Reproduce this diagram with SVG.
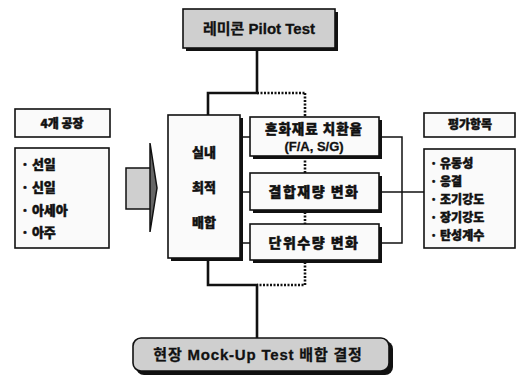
<svg xmlns="http://www.w3.org/2000/svg" width="518" height="378" viewBox="0 0 518 378">
<style>
.t{font-family:"Noto Sans CJK KR","Noto Sans",sans-serif;font-weight:900;fill:#111;stroke:#111;stroke-width:0.45;}
.l{font-family:"Liberation Sans","Noto Sans CJK KR",sans-serif;font-weight:bold;fill:#111;stroke:#111;stroke-width:0.3;}
.box{fill:#fafafa;stroke:#111;stroke-width:1.6;}
.gray{fill:#cfcfcf;stroke:#111;stroke-width:1.6;}
.sh{fill:#111;}
.solid{stroke:#111;stroke-width:2.6;fill:none;}
.dot{stroke:#111;stroke-width:2.6;fill:none;stroke-dasharray:2 1.5;}
.thin{stroke:#111;stroke-width:1.5;fill:none;}
</style>
<rect width="518" height="378" fill="#fff"/>
<g id="connectors">
<polyline class="solid" points="257,48 257,93 208,93 208,116"/>
<line class="dot" x1="257" y1="93" x2="305" y2="93"/>
<line class="dot" x1="305" y1="93" x2="305" y2="118"/>
<line class="dot" x1="305" y1="157" x2="305" y2="173"/>
<line class="dot" x1="305" y1="212" x2="305" y2="224"/>
<polyline class="dot" points="305,262 305,285 257,285"/>
<polyline class="solid" points="208,260 208,285 257,285 257,338"/>
<line class="thin" x1="241" y1="137" x2="251" y2="137"/>
<line class="thin" x1="241" y1="192" x2="251" y2="192"/>
<line class="thin" x1="241" y1="243" x2="251" y2="243"/>
<polyline class="thin" points="380,137 402,137 402,243 380,243"/>
<line class="thin" x1="380" y1="192" x2="424" y2="192"/>
</g>
<g id="pilot">
<rect class="sh" x="186" y="12" width="152" height="39"/>
<rect class="gray" x="183" y="9" width="152" height="39"/>
<text class="l" x="259" y="34" font-size="15" text-anchor="middle">레미콘 Pilot Test</text>
</g>
<g id="factories-title">
<rect class="box" x="15" y="109" width="95" height="28"/>
<text class="t" x="62" y="128" font-size="12" text-anchor="middle">4개 공장</text>
</g>
<g id="factories">
<rect class="box" x="15" y="148" width="94" height="100"/>
<g class="t" font-size="13">
<text x="21" y="169">· 선일</text>
<text x="21" y="192">· 신일</text>
<text x="21" y="215">· 아세아</text>
<text x="21" y="237">· 아주</text>
</g>
</g>
<g id="arrow">
<rect x="126" y="168" width="25" height="41" fill="#cfcfcf" stroke="#111" stroke-width="1.5"/>
<polygon points="150,143 157,188 150,232" fill="#666" stroke="#111" stroke-width="1.5"/>
</g>
<g id="optimal">
<rect class="sh" x="171" y="118" width="72" height="143"/>
<rect class="box" x="168" y="115" width="72" height="143"/>
<g class="t" font-size="13" text-anchor="middle">
<text x="204" y="157">실내</text>
<text x="204" y="192">최적</text>
<text x="204" y="227">배합</text>
</g>
</g>
<g id="admixture">
<rect class="sh" x="253" y="120" width="129" height="39"/>
<rect class="box" x="250" y="117" width="129" height="39"/>
<text class="t" x="314" y="134" font-size="13.5" text-anchor="middle" letter-spacing="1">혼화재료 치환율</text>
<text class="l" x="314" y="151" font-size="13" text-anchor="middle">(F/A, S/G)</text>
</g>
<g id="binder">
<rect class="sh" x="253" y="176" width="129" height="37"/>
<rect class="box" x="250" y="173" width="129" height="37"/>
<text class="t" x="314" y="197" font-size="14" text-anchor="middle" letter-spacing="1.5">결합재량 변화</text>
</g>
<g id="water">
<rect class="sh" x="253" y="227" width="129" height="36"/>
<rect class="box" x="250" y="224" width="129" height="36"/>
<text class="t" x="314" y="248" font-size="14" text-anchor="middle" letter-spacing="1.5">단위수량 변화</text>
</g>
<g id="eval-title">
<rect class="box" x="424" y="113" width="91" height="24"/>
<text class="t" x="470" y="129" font-size="12" text-anchor="middle">평가항목</text>
</g>
<g id="eval">
<rect class="box" x="424" y="149" width="91" height="99"/>
<g class="t" font-size="12">
<text x="430" y="168">· 유동성</text>
<text x="430" y="186">· 응결</text>
<text x="430" y="204">· 조기강도</text>
<text x="430" y="222">· 장기강도</text>
<text x="430" y="240">· 탄성계수</text>
</g>
</g>
<g id="mockup">
<rect class="sh" x="136" y="341" width="257" height="34" rx="8"/>
<rect class="gray" x="133" y="338" width="256" height="33" rx="8"/>
<text class="l" x="258" y="360" font-size="15" text-anchor="middle" letter-spacing="0.8">현장 Mock-Up Test 배합 결정</text>
</g>
</svg>
